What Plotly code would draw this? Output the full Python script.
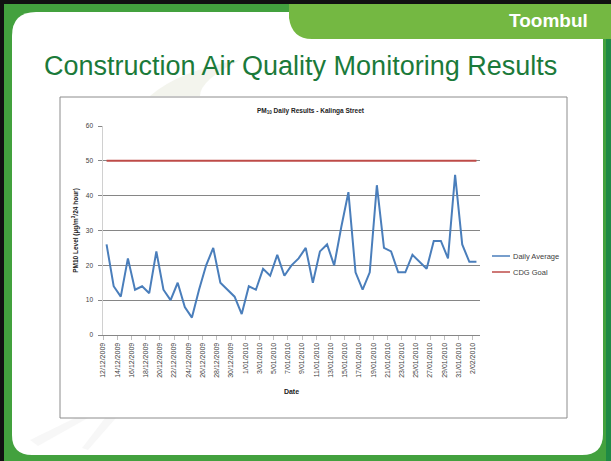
import pandas as pd
import plotly.graph_objects as go

# ── Data ─────────────────────────────────────────────────────────────────────
DATES = pd.date_range("2009-12-12", "2010-02-02", freq="D")
DAILY_AVG = [26, 14, 11, 22, 13, 14, 12, 24, 13, 10,
             15, 8, 5, 13, 20, 25, 15, 13, 11, 6,
             14, 13, 19, 17, 23, 17, 20, 22, 25, 15,
             24, 26, 20, 31, 41, 18, 13, 18, 43, 25,
             24, 18, 18, 23, 21, 19, 27, 27, 22, 46,
             26, 21, 21]
GOAL = [50] * len(DATES)
TICK_LABELS = ["12/12/2009", "14/12/2009", "16/12/2009", "18/12/2009", "20/12/2009",
               "22/12/2009", "24/12/2009", "26/12/2009", "28/12/2009", "30/12/2009",
               "1/01/2010", "3/01/2010", "5/01/2010", "7/01/2010", "9/01/2010",
               "11/01/2010", "13/01/2010", "15/01/2010", "17/01/2010", "19/01/2010",
               "21/01/2010", "23/01/2010", "25/01/2010", "27/01/2010", "29/01/2010",
               "31/01/2010", "2/02/2010"]
SERIES_NAMES = ["Daily Average", "CDG Goal"]

# ── Theme ────────────────────────────────────────────────────────────────────
W, H = 611, 461
PL, PR, PT, PB = 103, 480, 126, 335     # plot area in pixels
C_BLUE = "#4a7ebb"
C_RED = "#be4b48"
C_GRID = "#868686"
C_TXT = "#404040"
C_FRAME = "#43a13e"
C_TAB = "#74b842"
C_TITLE = "#1b7a3a"
FONT = "Liberation Sans, Arial, sans-serif"


def px(x):
    return (x - PL) / (PR - PL)


def py(y):
    return (PB - y) / (PB - PT)


def path(points):
    out = []
    for p in points:
        cmd, *xy = p
        coords = " ".join(f"{px(xy[i])},{py(xy[i + 1])}" for i in range(0, len(xy), 2))
        out.append(f"{cmd} {coords}")
    return " ".join(out) + " Z"


fig = go.Figure()

fig.add_trace(go.Scatter(x=DATES, y=DAILY_AVG, mode="lines", name=SERIES_NAMES[0],
                         line={"color": C_BLUE, "width": 2}, showlegend=False))
fig.add_trace(go.Scatter(x=DATES, y=GOAL, mode="lines", name=SERIES_NAMES[1],
                         line={"color": C_RED, "width": 2}, showlegend=False))

bounds = DATES[::2] - pd.Timedelta(hours=12)

shapes = [
    # white slide panel with rounded corners
    dict(type="path", xref="paper", yref="paper", layer="below", line_width=0,
         fillcolor="white",
         path=path([("M", 12, 36), ("Q", 12, 12, 36, 12), ("L", 590, 12),
                    ("L", 603, 30), ("L", 603, 434), ("Q", 603, 455, 582, 455),
                    ("L", 32, 455), ("Q", 12, 455, 12, 435)])),
    # faint swooshes in the background
    dict(type="path", xref="paper", yref="paper", layer="below", line_width=0,
         fillcolor="rgba(232,234,220,0.5)",
         path=path([("M", 150, 96), ("Q", 180, 70, 240, 60), ("Q", 200, 80, 200, 96)])),
    dict(type="path", xref="paper", yref="paper", layer="below", line_width=0,
         fillcolor="rgba(228,228,228,0.3)",
         path=path([("M", 30, 440), ("L", 75, 418), ("L", 88, 418), ("L", 38, 446)])),
    dict(type="path", xref="paper", yref="paper", layer="below", line_width=0,
         fillcolor="rgba(228,228,228,0.3)",
         path=path([("M", 82, 448), ("L", 105, 418), ("L", 116, 418), ("L", 88, 450)])),
    # green tab top right
    dict(type="path", xref="paper", yref="paper", layer="below", line_width=0,
         fillcolor=C_TAB,
         path=path([("M", 289, 0), ("L", 611, 0), ("L", 611, 39), ("L", 312, 39),
                    ("Q", 292, 39, 289, 18)])),
    # darker right edge
    dict(type="rect", xref="paper", yref="paper", layer="below", line_width=0,
         fillcolor="#1f8a45", x0=px(606), x1=px(611), y0=py(461), y1=py(39)),
    # black edges
    dict(type="rect", xref="paper", yref="paper", layer="below", line_width=0,
         fillcolor="#111111", x0=px(0), x1=px(4), y0=py(461), y1=py(0)),
    dict(type="rect", xref="paper", yref="paper", layer="below", line_width=0,
         fillcolor="#111111", x0=px(0), x1=px(611), y0=py(4), y1=py(0)),
    # chart box
    dict(type="rect", xref="paper", yref="paper", layer="below",
         line={"color": "#8c8c8c", "width": 1}, fillcolor="white",
         x0=px(60), x1=px(567), y0=py(418), y1=py(97)),
    # legend keys
    dict(type="line", xref="paper", yref="paper", line={"color": C_BLUE, "width": 1.5},
         x0=px(492), x1=px(510), y0=py(256), y1=py(256)),
    dict(type="line", xref="paper", yref="paper", line={"color": C_RED, "width": 1.5},
         x0=px(492), x1=px(510), y0=py(272), y1=py(272)),
]

annotations = [
    dict(text="Construction Air Quality Monitoring Results", xref="paper", yref="paper",
         x=px(42), y=py(66), xanchor="left", yanchor="middle", showarrow=False,
         font={"family": FONT, "size": 27, "color": C_TITLE}),
    dict(text="<b>Toombul</b>", xref="paper", yref="paper",
         x=px(590), y=py(21), xanchor="right", yanchor="middle", showarrow=False,
         font={"family": FONT, "size": 19, "color": "white"}),
    dict(text="<b>PM<sub>10</sub> Daily Results - Kalinga Street</b>", xref="paper",
         yref="paper", x=px(311), y=py(111), xanchor="center", yanchor="middle",
         showarrow=False, font={"family": FONT, "size": 6.5, "color": "#222222"}),
    dict(text=SERIES_NAMES[0], xref="paper", yref="paper", x=px(511), y=py(256),
         xanchor="left", yanchor="middle", showarrow=False,
         font={"family": FONT, "size": 7.5, "color": C_TXT}),
    dict(text=SERIES_NAMES[1], xref="paper", yref="paper", x=px(511), y=py(272),
         xanchor="left", yanchor="middle", showarrow=False,
         font={"family": FONT, "size": 7.5, "color": C_TXT}),
]

fig.update_layout(
    width=W, height=H, autosize=False,
    margin={"l": PL, "r": W - PR, "t": PT, "b": H - PB, "pad": 0},
    paper_bgcolor=C_FRAME, plot_bgcolor="rgba(0,0,0,0)",
    font={"family": FONT, "color": C_TXT, "size": 7},
    shapes=shapes, annotations=annotations, showlegend=False,
    xaxis={
        "type": "date",
        "range": [DATES[0] - pd.Timedelta(hours=12), DATES[-1] + pd.Timedelta(hours=12)],
        "tickmode": "array", "tickvals": bounds, "ticktext": TICK_LABELS,
        "tickangle": -90, "tickfont": {"size": 7, "color": C_TXT},
        "ticks": "outside", "ticklen": 4, "tickcolor": "#bfbfbf",
        "showline": True, "linecolor": C_GRID, "linewidth": 1,
        "showgrid": False, "zeroline": False,
        "title": {"text": "<b>Date</b>", "font": {"size": 7, "color": "#222222"},
                  "standoff": 12},
    },
    yaxis={
        "range": [0, 60], "dtick": 10, "tick0": 0,
        "tickfont": {"size": 6.5, "color": C_TXT}, "ticksuffix": "  ",
        "ticks": "outside", "ticklen": 4, "tickcolor": C_GRID,
        "showgrid": True, "gridcolor": C_GRID, "gridwidth": 1,
        "showline": True, "linecolor": "#d0d0d0", "zeroline": False,
        "title": {"text": "<b>PM10 Level (µg/m<sup>3</sup>/24 hour)</b>",
                  "font": {"size": 6.5, "color": "#222222"}, "standoff": 6},
    },
)

# the page body has a default 8px margin; drop it so the slide fills the window
fig.write_html("out.html", config={"displayModeBar": False},
               post_script="document.body.style.margin='0px';")
